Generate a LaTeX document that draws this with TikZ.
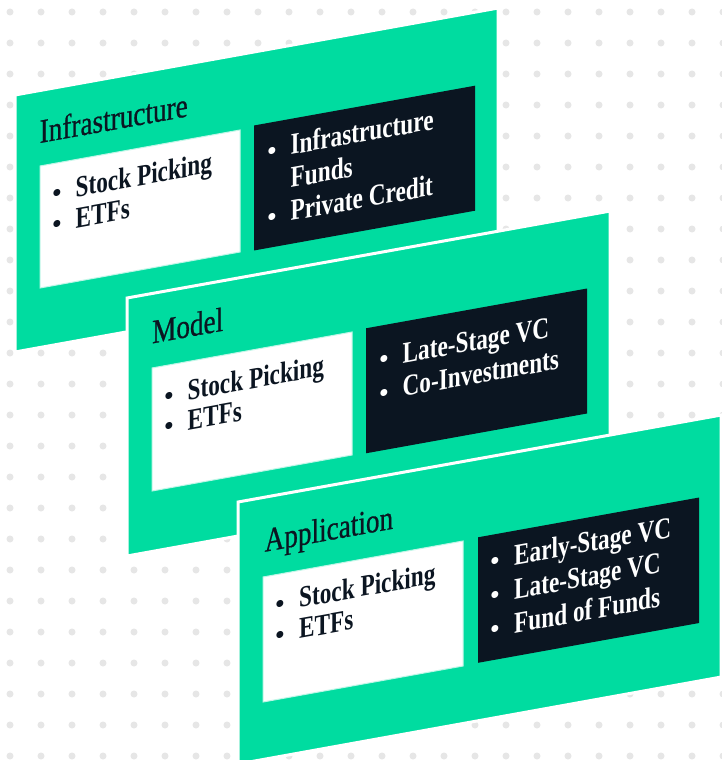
\documentclass[tikz,border=0pt]{standalone}
\usepackage{fontspec}
\setmainfont{Liberation Serif}
\newfontfamily\headfont[FakeStretch=0.8,FakeBold=0.6]{Liberation Serif}
\newfontfamily\listfont[FakeStretch=0.775]{Liberation Serif Bold}
\definecolor{mint}{HTML}{00DCA0}
\definecolor{ink}{HTML}{0B1521}
\definecolor{dotgray}{HTML}{E6E6E6}

\tikzset{
  layer/.style={fill=mint, draw=white, line width=3pt, line join=miter},
  lightbox/.style={fill=white, draw=mint!25, line width=1pt, inner sep=0pt, outer sep=0pt,
                   anchor=north west, transform shape, minimum width=200pt},
  darkbox/.style={fill=ink, draw=none, inner sep=0pt, outer sep=0pt,
                  anchor=north west, transform shape, minimum width=221pt},
  heading/.style={anchor=base west, inner sep=0pt, transform shape, text=ink,
                  font=\headfont\fontsize{34}{34}\selectfont},
  listitem/.style={anchor=base west, inner sep=0pt, transform shape,
                   font=\listfont\fontsize{30}{30}\selectfont},
  listdot/.style={anchor=base, inner sep=0pt, transform shape,
                  font=\fontsize{29}{29}\selectfont},
  onlight/.style={text=ink},
  ondark/.style={text=white},
}

\begin{document}
\begin{tikzpicture}[x=1pt,y=-1pt]
\fill[white] (0,0) rectangle (721,760);
\useasboundingbox (0,0) rectangle (721,760);

% dotted background grid
\foreach \i in {0,...,23}{
  \foreach \j in {0,...,24}{
    \fill[dotgray] (10+31*\i,12+31*\j) circle[radius=3.5pt];
  }
}

% ---- Infrastructure layer ----
\begin{scope}[shift={(15,95)}, yslant=0.18]
  \path[layer] (0,0) -- (483,0) -- (483,257) -- (0,257) -- cycle;
  \node[lightbox, minimum height=122pt] (infraPub) at (25,75.5) {};
  \node[darkbox, minimum height=125pt] (infraPriv) at (239,73.5) {};
  \node[heading] (infraT) at (24.5,52.5) {Infrastructure};
  \node[listdot, onlight] (infraB1) at (42,115) {•};
  \node[listitem, onlight] (infraI1) at (60.5,113) {Stock Picking};
  \node[listdot, onlight] (infraB2) at (42,146) {•};
  \node[listitem, onlight] (infraI2) at (60.5,144) {ETFs};
  \node[listdot, ondark] (infraB3) at (257,111.5) {•};
  \node[listitem, ondark] (infraI3) at (275.5,109.5) {Infrastructure};
  \node[listitem, ondark] (infraI4) at (275.5,142.5) {Funds};
  \node[listdot, ondark] (infraB5) at (257,177.5) {•};
  \node[listitem, ondark] (infraI5) at (275.5,175.5) {Private Credit};
\end{scope}

% ---- Model layer ----
\begin{scope}[shift={(127,298)}, yslant=0.18]
  \path[layer] (0,0) -- (483,0) -- (483,258) -- (0,258) -- cycle;
  \node[lightbox, minimum height=123pt] (modelPub) at (25,74.5) {};
  \node[darkbox, minimum height=125pt] (modelPriv) at (239,73.3) {};
  \node[heading] (modelT) at (25,50) {Model};
  \node[listdot, onlight] (modelB1) at (42,115) {•};
  \node[listitem, onlight] (modelI1) at (60.5,113) {Stock Picking};
  \node[listdot, onlight] (modelB2) at (42,145.5) {•};
  \node[listitem, onlight] (modelI2) at (60.5,143.5) {ETFs};
  \node[listdot, ondark] (modelB3) at (257,117) {•};
  \node[listitem, ondark] (modelI3) at (275.5,115) {Late-Stage VC};
  \node[listdot, ondark] (modelB4) at (257,150.5) {•};
  \node[listitem, ondark] (modelI4) at (275.5,148.5) {Co-Investments};
\end{scope}

% ---- Application layer ----
\begin{scope}[shift={(238,502)}, yslant=0.18]
  \path[layer] (0,0) -- (483,0) -- (483,262) -- (0,262) -- cycle;
  \node[lightbox, minimum height=125pt] (appPub) at (25,79.5) {};
  \node[darkbox, minimum height=125.5pt] (appPriv) at (240,78.5) {};
  \node[heading] (appT) at (26.5,54.6) {Application};
  \node[listdot, onlight] (appB1) at (42,119) {•};
  \node[listitem, onlight] (appI1) at (61,117) {Stock Picking};
  \node[listdot, onlight] (appB2) at (42,150) {•};
  \node[listitem, onlight] (appI2) at (61,148) {ETFs};
  \node[listdot, ondark] (appB3) at (257,115) {•};
  \node[listitem, ondark] (appI3) at (276,113) {Early-Stage VC};
  \node[listdot, ondark] (appB4) at (257,149) {•};
  \node[listitem, ondark] (appI4) at (276,147) {Late-Stage VC};
  \node[listdot, ondark] (appB5) at (257,183) {•};
  \node[listitem, ondark] (appI5) at (276,181) {Fund of Funds};
\end{scope}
\end{tikzpicture}
\end{document}
